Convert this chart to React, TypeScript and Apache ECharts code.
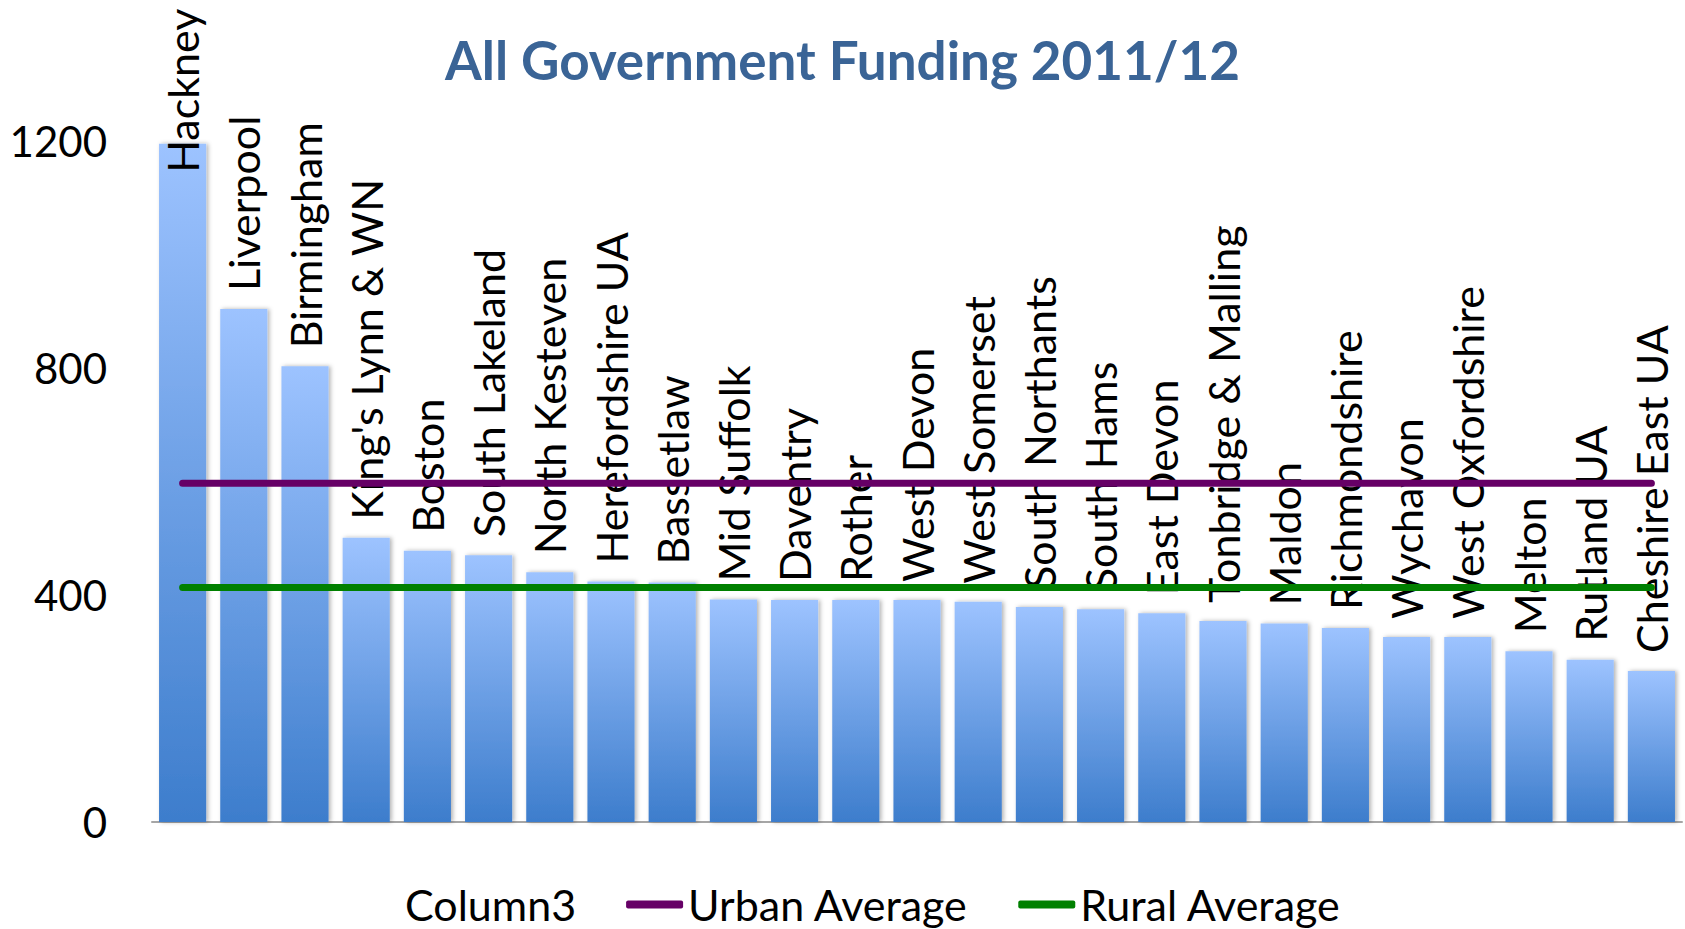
import React, { useEffect, useRef } from "react";
import * as echarts from "echarts";

const titleText = "All Government Funding 2011/12";
const categories = [
  "Hackney", "Liverpool", "Birmingham", "King's Lynn & WN", "Boston", "South Lakeland",
  "North Kesteven", "Herefordshire UA", "Bassetlaw", "Mid Suffolk", "Daventry", "Rother",
  "West Devon", "West Somerset", "South Northants", "South Hams", "East Devon",
  "Tonbridge & Malling", "Maldon", "Richmondshire", "Wychavon", "West Oxfordshire",
  "Melton", "Rutland UA", "Cheshire East UA",
];
const column3 = [
  1195, 904, 803, 501, 478, 470, 440, 424, 422, 392, 391, 391, 391, 388, 379, 375, 368,
  354, 350, 342, 326, 326, 301, 286, 266,
];
const urbanAverage = [
  597, 597, 597, 597, 597, 597, 597, 597, 597, 597, 597, 597, 597, 597, 597, 597, 597,
  597, 597, 597, 597, 597, 597, 597, 597,
];
const ruralAverage = [
  413, 413, 413, 413, 413, 413, 413, 413, 413, 413, 413, 413, 413, 413, 413, 413, 413,
  413, 413, 413, 413, 413, 413, 413, 413,
];
const yTicks = { min: 0, max: 1200, interval: 400 };

const FONT = "Lato, 'Open Sans', sans-serif";

export default function App() {
  const ref = useRef<HTMLDivElement>(null);
  useEffect(() => {
    if (!ref.current) return;
    const chart = echarts.init(ref.current, undefined, { renderer: "svg" });
    const barData = column3.map((v, i) =>
      i === 0
        ? { value: v, label: { position: "insideTop", distance: 29 } }
        : v
    );
    chart.setOption({
      animation: false,
      backgroundColor: "#ffffff",
      title: {
        text: titleText,
        left: "center",
        top: 28,
        textStyle: { fontFamily: FONT, fontSize: 53, fontWeight: "bold", color: "#3A6496" },
      },
      legend: {
        left: 338,
        top: 878,
        itemGap: 50,
        itemWidth: 57,
        itemHeight: 8,
        textStyle: { fontFamily: FONT, fontSize: 43, color: "#000000" },
        data: [
          { name: "Column3", icon: "rect", itemStyle: { color: "rgba(0,0,0,0)" } },
          { name: "Urban Average", icon: "roundRect", itemStyle: { color: "#660066" } },
          { name: "Rural Average", icon: "roundRect", itemStyle: { color: "#008000" } },
        ],
      },
      grid: { left: 152, right: 3, top: 141, bottom: 107, containLabel: false },
      xAxis: {
        type: "category",
        data: categories,
        axisLine: { show: true, lineStyle: { color: "#A6A6A6", width: 2 } },
        axisTick: { show: false },
        axisLabel: { show: false },
      },
      yAxis: {
        type: "value",
        min: yTicks.min,
        max: yTicks.max,
        interval: yTicks.interval,
        axisLine: { show: false },
        axisTick: { show: false },
        splitLine: { show: false },
        axisLabel: {
          fontFamily: FONT,
          fontSize: 42,
          color: "#000000",
          margin: 45,
          formatter: (v: number) => String(v),
        },
      },
      series: [
        {
          name: "Column3",
          type: "bar",
          data: barData,
          barCategoryGap: "23%",
          itemStyle: {
            color: new echarts.graphic.LinearGradient(0, 0, 0, 1, [
              { offset: 0, color: "#9DC3FF" },
              { offset: 1, color: "#3D7DCC" },
            ]),
            shadowColor: "rgba(0,0,0,0.3)",
            shadowBlur: 4,
            shadowOffsetX: 2,
          },
          label: {
            show: true,
            formatter: "{b}",
            position: "top",
            distance: 18,
            rotate: 90,
            align: "left",
            verticalAlign: "middle",
            fontFamily: FONT,
            fontSize: 43,
            color: "#000000",
          },
          z: 1,
        },
        {
          name: "Urban Average",
          type: "line",
          data: urbanAverage,
          symbol: "none",
          lineStyle: { color: "#660066", width: 7, cap: "round" },
          itemStyle: { color: "#660066" },
          z: 3,
        },
        {
          name: "Rural Average",
          type: "line",
          data: ruralAverage,
          symbol: "none",
          lineStyle: { color: "#008000", width: 7, cap: "round" },
          itemStyle: { color: "#008000" },
          z: 3,
        },
      ],
    });
    return () => chart.dispose();
  }, []);
  return (
    <div
      ref={ref}
      style={{ position: "fixed", left: 0, top: 0, width: 1685, height: 929 }}
    />
  );
}
